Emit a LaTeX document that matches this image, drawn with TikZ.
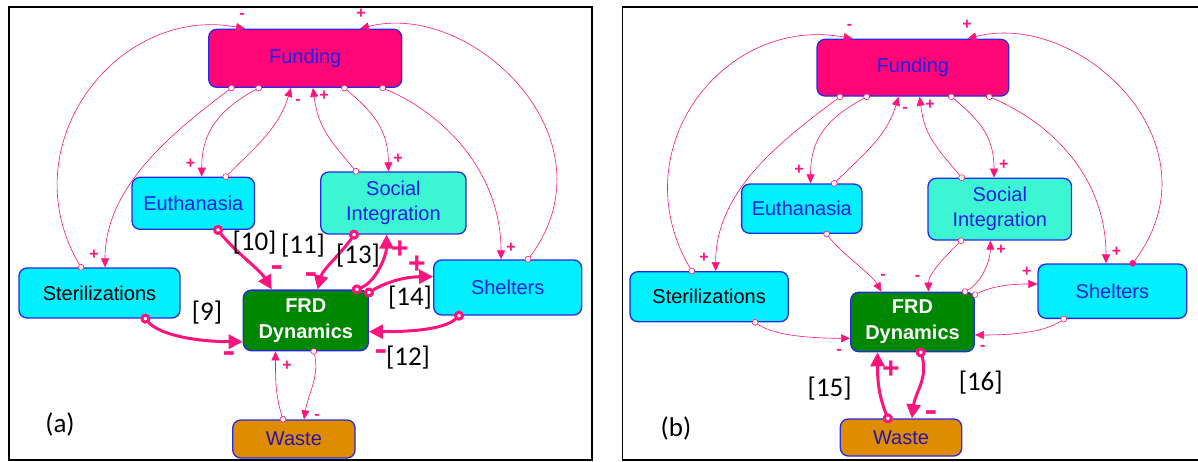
\documentclass[tikz,border=0pt]{standalone}
\usepackage{fontspec}
\setmainfont{Liberation Sans}
\newfontfamily\labfont{Carlito}
\usetikzlibrary{arrows.meta}

\definecolor{pk}{RGB}{255,20,125}
\definecolor{fund}{RGB}{255,5,120}
\definecolor{bdr}{RGB}{40,40,230}
\definecolor{txtblue}{RGB}{30,30,230}
\definecolor{cyanfill}{RGB}{0,240,255}
\definecolor{socfill}{RGB}{60,245,210}
\definecolor{frdfill}{RGB}{0,135,0}
\definecolor{wastefill}{RGB}{222,140,0}
\definecolor{wastetxt}{RGB}{40,20,170}

% a wide, heavy minus used on the thick links
\newcommand{\heavyminus}{\scalebox{1.35}[1.1]{-}}

\begin{document}
\begin{tikzpicture}[x=1pt,y=-1pt,
  box/.style={draw=bdr, line width=1.3pt, rounded corners=8pt, inner sep=0pt,
    align=center, text=txtblue, font=\fontsize{20}{25}\selectfont},
  fundbox/.style={box, fill=fund},
  cyanbox/.style={box, fill=cyanfill},
  socbox/.style={box, fill=socfill},
  frdbox/.style={box, fill=frdfill, text=white, font=\bfseries\fontsize{20}{26}\selectfont},
  wastebox/.style={box, fill=wastefill, text=wastetxt},
  lk/.style={draw=pk, line width=0.6pt,
    arrows={Circle[length=6.5pt,fill=white]-Triangle[length=9pt,width=8pt]}, shorten <=-3.2pt},
  lkdot/.style={draw=pk, line width=0.6pt,
    arrows={Circle[length=6.5pt,fill=pk]-Triangle[length=9pt,width=8pt]}, shorten <=-3.2pt},
  bk/.style={draw=pk, line width=3pt,
    arrows={Circle[length=10pt,fill=white]-Triangle[length=14pt,width=14pt]}, shorten <=-5pt},
  sg/.style={text=pk, inner sep=0pt, font=\bfseries\fontsize{16}{16}\selectfont},
  bsg/.style={text=pk, inner sep=0pt, font=\bfseries\fontsize{30}{30}\selectfont},
  bmn/.style={text=pk, inner sep=0pt, font=\bfseries\fontsize{28}{28}\selectfont},
  lbl/.style={inner sep=0pt, font=\labfont\fontsize{27}{27}\selectfont},
  frame/.style={draw=black, line width=1.4pt}
]
\useasboundingbox (0,0) rectangle (1198,462);

% panel frames
\draw[frame] (9,7) rectangle (592,460);
\draw[frame] (1199,7) -- (622.5,7) -- (622.5,460) -- (1199,460);

% ---------------- panel (a) ----------------
\node[fundbox, minimum width=193pt, minimum height=58pt] (fa) at (305.2,58.3) {Funding};
\node[cyanbox, minimum width=122.5pt, minimum height=52pt] (ea) at (193.3,203.3) {Euthanasia};
\node[socbox, minimum width=145.3pt, minimum height=62pt] (sa) at (393.4,203) {Social\\Integration};
\node[cyanbox, text=black, minimum width=161pt, minimum height=50pt] (ra) at (99.5,293) {Sterilizations};
\node[cyanbox, minimum width=148pt, minimum height=55pt] (ha) at (507.7,287.5) {Shelters};
\node[frdbox, minimum width=125pt, minimum height=60.6pt] (da) at (305.8,320.4) {FRD\\Dynamics};
\node[wastebox, minimum width=122.3pt, minimum height=38pt] (wa) at (293.9,439) {Waste};

% thin influence links
\draw[lk] ([xshift=-73.7pt]fa.south) .. controls +(-60,45) and +(0,-80) .. ([xshift=5.5pt]ra.north);
\draw[lk] ([xshift=-46.5pt]fa.south) .. controls +(-40,22) and +(0,-45) .. ([xshift=8.4pt]ea.north);
\draw[lk] ([xshift=32.5pt]ea.north) .. controls +(30,-30) and +(-12,40) .. ([xshift=-14.3pt]fa.south);
\draw[lk] ([xshift=-37.4pt]sa.north) .. controls +(-25,-30) and +(5,40) .. ([xshift=7.8pt]fa.south);
\draw[lk] ([xshift=39.2pt]fa.south) .. controls +(30,25) and +(0,-40) .. ([xshift=-5pt]sa.north);
\draw[lk] ([xshift=77.5pt]fa.south) .. controls +(70,30) and +(0,-80) .. ([xshift=-6.7pt]ha.north);
\draw[lk] ([xshift=-18.5pt]ra.north) .. controls +(-72,-122) and +(-128,-24) .. ([xshift=-60.2pt]fa.north);
\draw[lk] ([xshift=20.3pt]ha.north) .. controls +(90,-120) and +(112,-29) .. ([xshift=54.8pt]fa.north);
\draw[lk] ([xshift=8pt]da.south) .. controls +(6,25) and +(4,-25) .. ([xshift=10.1pt]wa.north);
\draw[lk] ([xshift=-10.9pt]wa.north) .. controls +(-8,-25) and +(0,25) .. ([xshift=-30.3pt]da.south);

% thick links [9]--[14]
\draw[bk] ([xshift=45.9pt]ra.south) .. controls +(15,18) and +(-40,0) .. ([yshift=-21.3pt]da.west);
\draw[bk] ([xshift=24.7pt]ea.south) .. controls +(15,20) and +(-12,-20) .. ([xshift=-34.1pt]da.north);
\draw[bk] ([xshift=-39.4pt]sa.south) .. controls +(-12,18) and +(5,-20) .. ([xshift=11.8pt]da.north);
\draw[bk] ([xshift=-12pt]da.north east) .. controls +(20,-8) and +(0,20) .. ([xshift=-6.9pt]sa.south);
\draw[bk] ([yshift=-3pt]da.north east) .. controls +(20,-12) and +(-25,0) .. ([yshift=10.8pt]ha.west);
\draw[bk] ([xshift=-48.7pt]ha.south) .. controls +(-15,15) and +(35,0) .. ([yshift=-11.3pt]da.east);

% polarity signs
\node[sg] (pa1) at (94,255) {+};
\node[sg] (pa2) at (190.6,164) {+};
\node[sg] (ma3) at (298,102) {-};
\node[sg] (pa4) at (324,96) {+};
\node[sg] (pa5) at (398,159) {+};
\node[sg] (pa6) at (511,248) {+};
\node[sg] (ma7) at (242,16) {-};
\node[sg] (pa8) at (361,14) {+};
\node[sg] (ma9) at (317,417) {-};
\node[sg] (pa10) at (287,366) {+};
\node[bsg] (bpa13) at (400,250) {+};
\node[bsg] (bpa14) at (417,265) {+};
\node[bmn] (bma10) at (277,271) {\heavyminus};
\node[bmn] (bma11) at (311,278) {\heavyminus};
\node[bmn] (bma9) at (229,357) {\heavyminus};
\node[bmn] (bma12) at (380.8,355) {\heavyminus};

% link numbers
\node[lbl] (la9) at (207,313) {[9]};
\node[lbl] (la10) at (254.5,243) {[10]};
\node[lbl] (la11) at (303,246) {[11]};
\node[lbl] (la13) at (358,256) {[13]};
\node[lbl] (la14) at (410,298) {[14]};
\node[lbl] (la12) at (408,357.5) {[12]};
\node[lbl] (capa) at (60,424) {(a)};

% ---------------- panel (b) ----------------
\node[fundbox, minimum width=191.7pt, minimum height=56.7pt] (fb) at (912.9,67.7) {Funding};
\node[cyanbox, minimum width=120.4pt, minimum height=49.3pt] (eb) at (801.8,208.7) {Euthanasia};
\node[socbox, minimum width=143.5pt, minimum height=61.7pt] (sb) at (999.8,209.2) {Social\\Integration};
\node[cyanbox, text=black, minimum width=158.4pt, minimum height=50pt] (rb) at (709.1,296.7) {Sterilizations};
\node[cyanbox, minimum width=148.7pt, minimum height=54.3pt] (hb) at (1112.4,291.2) {Shelters};
\node[frdbox, minimum width=123.6pt, minimum height=59.4pt] (db) at (912.5,322) {FRD\\Dynamics};
\node[wastebox, minimum width=121.4pt, minimum height=37pt] (wb) at (901,437.5) {Waste};

% thin influence links
\draw[lk] ([xshift=-72.9pt]fb.south) .. controls +(-60,45) and +(0,-80) .. ([xshift=6.5pt]rb.north);
\draw[lk] ([xshift=-46.2pt]fb.south) .. controls +(-40,22) and +(0,-45) .. ([xshift=8.7pt]eb.north);
\draw[lk] ([xshift=32.4pt]eb.north) .. controls +(30,-30) and +(-12,40) .. ([xshift=-14.4pt]fb.south);
\draw[lk] ([xshift=-38.1pt]sb.north) .. controls +(-25,-30) and +(5,40) .. ([xshift=6.7pt]fb.south);
\draw[lk] ([xshift=38.4pt]fb.south) .. controls +(30,25) and +(0,-40) .. ([xshift=-5.8pt]sb.north);
\draw[lk] ([xshift=76.3pt]fb.south) .. controls +(70,30) and +(0,-80) .. ([xshift=-6.4pt]hb.north);
\draw[lk] ([xshift=-17.3pt]rb.north) .. controls +(-72,-122) and +(-128,-24) .. ([xshift=-60.3pt]fb.north);
\draw[lkdot] ([xshift=20.3pt]hb.north) .. controls +(90,-120) and +(112,-29) .. ([xshift=54.5pt]fb.north);
\draw[lk] ([xshift=24.8pt]eb.south) .. controls +(15,20) and +(-10,-18) .. ([xshift=-31.2pt]db.north);
\draw[lk] ([xshift=-38.8pt]sb.south) .. controls +(-15,15) and +(0,-18) .. ([xshift=15.9pt]db.north);
\draw[lk] ([xshift=-10pt]db.north east) .. controls +(18,-10) and +(0,18) .. ([xshift=-9.4pt]sb.south);
\draw[lk] ([yshift=-3pt]db.north east) .. controls +(20,-10) and +(-20,0) .. ([yshift=7.2pt]hb.west);
\draw[lk] ([xshift=45.9pt]rb.south) .. controls +(20,14) and +(-35,0) .. ([yshift=-16.3pt]db.west);
\draw[lk] ([xshift=-48.6pt]hb.south) .. controls +(-20,14) and +(35,0) .. ([yshift=-13pt]db.east);

% thick links [15], [16]
\draw[bk] ([xshift=-13.2pt]wb.north) .. controls +(-10,-25) and +(0,25) .. ([xshift=-35pt]db.south);
\draw[bk] ([xshift=8.2pt]db.south) .. controls +(8,25) and +(3,-25) .. ([xshift=10.9pt]wb.north);

% polarity signs
\node[sg] (pb1) at (704,258) {+};
\node[sg] (pb2) at (799,170) {+};
\node[sg] (mb3) at (905,110) {-};
\node[sg] (pb4) at (930,105) {+};
\node[sg] (pb5) at (1003.7,165) {+};
\node[sg] (pb6) at (1116.6,252) {+};
\node[sg] (mb7) at (849.5,26.7) {-};
\node[sg] (pb8) at (967,25) {+};
\node[sg] (mb9) at (883,277) {-};
\node[sg] (mb10) at (917.6,278) {-};
\node[sg] (pb11) at (1001,250) {+};
\node[sg] (pb12) at (1026.7,272) {+};
\node[sg] (mb13) at (839,352) {-};
\node[sg] (mb14) at (982.7,348) {-};
\node[bsg] (bpb15) at (890.9,370) {+};
\node[bmn] (bmb16) at (931,416) {\heavyminus};

% link numbers
\node[lbl] (lb15) at (829.7,389) {[15]};
\node[lbl] (lb16) at (980.7,383) {[16]};
\node[lbl] (capb) at (676,428) {(b)};
\end{tikzpicture}
\end{document}
